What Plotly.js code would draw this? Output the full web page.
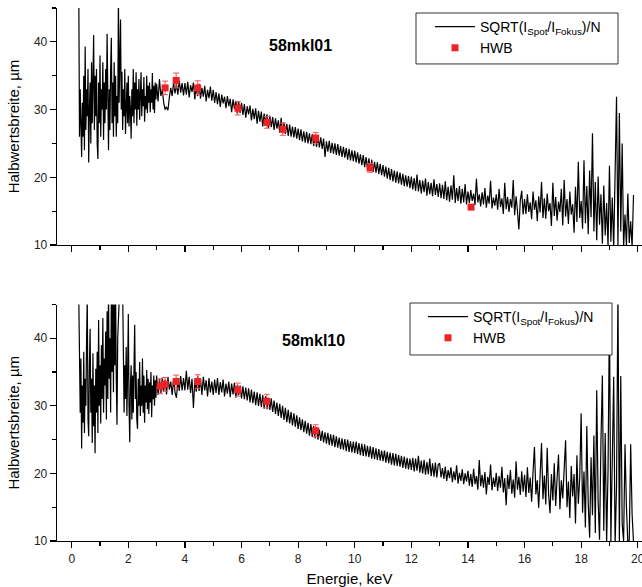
<!DOCTYPE html>
<html>
<head>
<meta charset="utf-8">
<script src="https://cdn.plot.ly/plotly-3.0.1.min.js"></script>
<style>html,body{margin:0;padding:0;background:#fff;}#chart{width:642px;height:587px;}</style>
</head>
<body>
<div id="chart"></div>
<script>
// Energy grids of the spectra (keV): low-energy part is sampled twice as densely
const lowStart = 0.25, lowStep = 0.025;
const mainStart = 3.0, mainStep = 0.05;

// 58mkl01: SQRT(I_Spot/I_Fokus)/N
const spec01Low = [
  47, 26, 33, 28, 23, 31, 26, 35, 24, 39.3, 27, 33, 29, 36, 22.2, 30, 34, 25, 37, 28,
  33, 41, 27, 35, 29, 36, 25, 22.7, 34, 28, 38, 26, 33, 30, 37, 25.5, 34, 28, 36, 30,
  41.2, 29, 24, 33, 27, 36, 40.6, 28, 34, 26, 37, 29, 35, 26, 32, 28, 47, 31, 36, 43.3,
  30, 35.6, 27, 33, 29, 36, 26.4, 31, 34, 28, 35, 27.5, 32, 30, 25.7, 33, 29, 36, 28, 34,
  30, 35.5, 27.6, 33, 30, 34.5, 28.5, 32, 35.5, 29, 33, 30.5, 34.8, 28.2, 32, 30, 35, 29.5, 33.5, 31,
  34, 29.6, 33, 31, 35.4, 30, 33.5, 29.5, 34, 31.5
];
const spec01Main = [
  33.8, 31.2, 34.5, 32.0, 33.0, 31.0, 30.0, 30.4, 29.9, 31.8, 33.2, 32.0, 34.0, 32.4, 33.8, 32.2, 34.3, 32.5, 33.9, 32.1,
  33.9, 32.2, 34.1, 31.8, 33.6, 32.6, 34.0, 31.5, 33.3, 32.0, 33.8, 31.6, 33.2, 31.9, 33.5, 31.2, 32.9, 31.7, 33.4, 31.3,
  32.9, 31.0, 32.6, 30.8, 32.4, 30.4, 32.2, 30.9, 31.9, 30.2, 32.0, 30.5, 31.6, 29.6, 31.5, 30.1, 31.3, 29.4, 31.2, 29.5,
  31.0, 29.2, 30.8, 28.8, 30.5, 29.3, 30.6, 28.4, 30.1, 28.6, 30.2, 27.9, 29.8, 28.2, 29.7, 27.5, 29.4, 28.0, 29.3, 27.3,
  29.1, 27.4, 28.9, 27.0, 28.7, 27.2, 28.4, 26.6, 28.8, 26.5, 28.1, 26.4, 27.9, 26.1, 27.8, 26.0, 27.5, 25.9, 27.4, 25.7,
  27.2, 25.5, 27.1, 25.3, 26.8, 25.1, 26.7, 25.0, 26.5, 24.9, 26.4, 24.6, 26.2, 24.5, 26.0, 24.4, 25.9, 24.2, 25.7, 23.0,
  25.3, 23.8, 25.4, 23.6, 25.1, 23.5, 25.0, 23.3, 24.9, 23.2, 24.6, 23.0, 24.5, 22.9, 24.3, 22.6, 24.2, 22.5, 24.0, 22.4,
  23.9, 22.2, 23.7, 22.0, 23.4, 21.8, 23.3, 21.5, 23.0, 21.3, 22.8, 21.0, 22.6, 20.8, 22.3, 20.7, 22.2, 20.5, 22.0, 20.3,
  21.8, 20.1, 21.6, 19.8, 21.4, 19.6, 21.2, 19.4, 21.0, 19.2, 20.9, 19.1, 20.7, 18.9, 20.5, 18.7, 20.3, 18.6, 20.2, 18.4,
  20.1, 18.2, 19.9, 18.0, 20.4, 17.9, 19.6, 17.6, 19.5, 17.8, 19.8, 17.3, 19.3, 17.5, 19.2, 17.2, 19.7, 17.4, 19.0, 17.1,
  19.1, 16.9, 18.9, 16.8, 19.4, 16.6, 18.6, 16.4, 18.8, 16.7, 20.3, 16.2, 18.4, 16.5, 18.7, 16.1, 18.3, 16.3, 19.0, 16.0,
  17.9, 16.2, 18.1, 16.5, 17.6, 15.9, 19.8, 16.3, 17.5, 15.7, 17.8, 16.0, 18.4, 15.5, 17.3, 16.1, 19.5, 15.4, 17.0, 15.8,
  17.5, 15.2, 18.3, 15.6, 16.9, 14.6, 19.2, 15.3, 17.1, 14.9, 16.8, 15.5, 19.6, 14.4, 17.2, 15.0, 12.3, 16.6, 18.0, 14.5,
  16.8, 14.6, 17.5, 14.9, 16.3, 13.8, 17.9, 15.2, 16.6, 13.5, 17.2, 14.8, 19.3, 14.0, 16.9, 13.9, 17.6, 15.0, 16.2, 12.8,
  19.2, 14.3, 17.1, 13.6, 16.4, 14.9, 18.3, 12.9, 19.6, 14.2, 16.8, 13.1, 17.9, 14.5, 16.0, 11.8, 18.6, 13.4, 22.3, 14.0,
  16.5, 12.4, 22.5, 13.2, 18.7, 11.6, 21.0, 14.1, 26.5, 12.0, 19.3, 10.7, 20.1, 13.0, 17.5, 10.2, 18.8, 11.4, 16.2, 9.8,
  21.7, 10.5, 17.0, 9.5, 19.5, 31.9, 9.8, 29.5, 12.0, 25.0, 9.6, 14.5, 9.9, 17.6, 10.3, 13.5, 9.7, 17.4
];

// 58mkl10: SQRT(I_Spot/I_Fokus)/N
const spec10Low = [
  46, 35, 29, 37, 23.7, 33, 27.5, 38, 26, 34, 30, 39.7, 46, 28, 25.5, 36, 41.4, 29, 34, 24.5,
  37.8, 27, 33, 23.0, 35.5, 29, 38, 26, 42.7, 30, 36, 27.4, 39, 31, 43, 29, 37, 33, 41, 28,
  44, 31, 47, 34, 40, 29, 47, 35, 46, 32, 47, 36, 47, 34, 27.2, 40, 47, 48, 48, 47,
  47, 48, 47, 38, 29, 36, 31, 38.7, 28.5, 35, 43.6, 30, 24.6, 33, 36, 28, 34.5, 29, 37.7, 42,
  31, 35, 28, 26.6, 34, 30, 36.5, 28.5, 33, 30, 37, 29, 34.5, 27.5, 33, 30.5, 35.3, 29.5, 34, 28.8,
  33.5, 30.5, 35, 28.3, 33, 31, 34.5, 30, 33.8, 31.2
];
const spec10Main = [
  34.5, 31.6, 34.0, 31.8, 34.2, 32.1, 33.9, 31.7, 34.3, 32.4, 33.6, 31.6, 34.0, 32.0, 31.2, 33.6, 32.2, 34.4, 32.3, 34.1,
  32.3, 35.2, 32.4, 34.3, 31.9, 34.0, 29.7, 33.8, 32.1, 34.5, 32.2, 34.0, 31.6, 34.3, 32.3, 33.8, 31.4, 34.1, 32.0, 33.6,
  31.6, 33.9, 31.9, 34.1, 31.6, 33.5, 32.0, 33.9, 31.4, 33.3, 31.8, 33.6, 31.3, 33.3, 31.7, 33.4, 31.2, 33.1, 31.6, 33.0,
  31.1, 32.9, 31.0, 32.7, 30.8, 32.6, 30.5, 32.4, 30.4, 32.1, 30.1, 32.0, 30.0, 31.8, 29.8, 31.6, 29.6, 31.4, 29.5, 31.2,
  29.4, 31.1, 29.1, 30.8, 28.8, 30.5, 28.5, 30.3, 28.2, 30.0, 27.9, 29.7, 27.6, 29.4, 27.4, 29.1, 27.1, 28.9, 26.9, 28.6,
  26.6, 28.3, 26.4, 28.0, 26.1, 27.8, 25.9, 27.5, 25.6, 27.3, 25.4, 27.0, 25.2, 26.8, 25.0, 26.5, 24.8, 26.3, 24.6, 26.1,
  24.4, 26.0, 24.2, 25.8, 24.1, 25.7, 23.9, 25.5, 23.8, 25.3, 23.6, 25.2, 23.5, 25.1, 23.3, 25.0, 23.2, 24.8, 23.1, 24.7,
  23.0, 24.7, 22.9, 24.5, 22.7, 24.4, 22.6, 24.3, 22.5, 24.1, 22.4, 24.0, 22.2, 23.9, 22.1, 23.7, 22.0, 23.6, 21.9, 23.4,
  21.8, 23.4, 21.6, 23.2, 21.5, 23.1, 21.3, 23.0, 21.2, 22.9, 21.1, 22.7, 21.0, 22.6, 20.8, 22.5, 20.7, 22.3, 20.6, 22.2,
  20.5, 22.3, 20.3, 22.2, 20.4, 22.6, 20.1, 21.9, 20.0, 22.0, 19.8, 21.7, 19.9, 22.2, 19.6, 21.5, 19.5, 21.6, 19.4, 21.3,
  21.5, 19.4, 20.8, 19.2, 21.0, 18.9, 20.5, 19.3, 20.9, 18.7, 20.3, 19.0, 21.2, 18.5, 20.1, 18.9, 20.6, 18.4, 20.0, 18.8,
  20.4, 18.2, 19.9, 18.0, 20.7, 18.4, 19.6, 17.6, 22.0, 18.1, 19.8, 17.9, 20.2, 16.9, 19.5, 18.3, 21.3, 17.5, 19.4, 18.0,
  20.1, 17.4, 19.6, 17.9, 21.0, 17.2, 19.3, 15.3, 19.8, 17.7, 20.5, 17.0, 19.1, 16.4, 21.8, 17.6, 19.5, 16.8, 20.3, 17.3,
  19.8, 16.5, 20.9, 17.1, 19.4, 15.8, 20.2, 23.9, 16.9, 19.0, 14.9, 20.6, 24.5, 16.2, 19.7, 15.4, 23.8, 17.0, 14.1, 19.9,
  16.0, 21.5, 15.2, 19.3, 22.8, 14.7, 19.0, 16.3, 20.4, 24.9, 15.0, 18.8, 13.4, 21.1, 16.6, 19.9, 12.6, 22.7, 15.5, 19.4,
  28.9, 14.2, 20.3, 12.0, 27.0, 15.6, 10.5, 22.4, 13.8, 25.6, 11.2, 32.3, 16.0, 10.2, 24.8, 34.5, 11.5, 26.0, 9.6, 20.5,
  44, 10.0, 22.0, 34.3, 9.5, 18.0, 47, 9.8, 34.4, 12.5, 10.0, 24.3, 15.0, 9.7, 10.1, 24.3, 14.0, 9.8
];

// HWB points (energy keV, width um, error)
const hwb01E = [3.30, 3.69, 4.45, 5.87, 6.90, 7.46, 8.62, 10.54, 14.11];
const hwb01V = [33.2, 34.3, 33.2, 30.2, 28.1, 27.1, 25.8, 21.4, 15.6];
const hwb01Err = [1.0, 1.1, 1.05, 1.0, 0.85, 0.9, 0.8, 0.65, 0.3];

const hwb10E = [3.12, 3.30, 3.69, 4.45, 5.87, 6.89, 8.62];
const hwb10V = [32.9, 33.2, 33.6, 33.6, 32.4, 30.7, 26.3];
const hwb10Err = [1.1, 1.0, 0.95, 1.0, 0.97, 1.0, 0.9];

const sampleNames = ['58mkl01', '58mkl10'];
const lineName = 'SQRT(I<sub>Spot</sub>/I<sub>Fokus</sub>)/N';
const pointName = 'HWB';
const xTitle = 'Energie, keV';
const yTitle = 'Halbwertsbreite, µm';

function grid(arr, start, step) { return arr.map((_, i) => +(start + i * step).toFixed(3)); }
const energy01 = grid(spec01Low, lowStart, lowStep).concat(grid(spec01Main, mainStart, mainStep));
const values01 = spec01Low.concat(spec01Main);
const energy10 = grid(spec10Low, lowStart, lowStep).concat(grid(spec10Main, mainStart, mainStep));
const values10 = spec10Low.concat(spec10Main);

const FONT = 'Liberation Sans, Arial, Helvetica, sans-serif';
const RED = '#ec2227';
const ERRRED = '#f0575b';

const traces = [
  {x: energy01, y: values01, type: 'scatter', mode: 'lines', name: lineName,
   line: {color: '#000', width: 1.2}, xaxis: 'x', yaxis: 'y', legend: 'legend'},
  {x: hwb01E, y: hwb01V, type: 'scatter', mode: 'markers', name: pointName,
   marker: {symbol: 'square', size: 7, color: RED},
   error_y: {type: 'data', array: hwb01Err, visible: true, color: ERRRED, thickness: 1, width: 3},
   xaxis: 'x', yaxis: 'y', legend: 'legend'},
  {x: energy10, y: values10, type: 'scatter', mode: 'lines', name: lineName,
   line: {color: '#000', width: 1.2}, xaxis: 'x2', yaxis: 'y2', legend: 'legend2'},
  {x: hwb10E, y: hwb10V, type: 'scatter', mode: 'markers', name: pointName,
   marker: {symbol: 'square', size: 7, color: RED},
   error_y: {type: 'data', array: hwb10Err, visible: true, color: ERRRED, thickness: 1, width: 3},
   xaxis: 'x2', yaxis: 'y2', legend: 'legend2'}
];

const xCommon = {
  range: [-0.52, 20.15], showgrid: false, zeroline: false, showline: true,
  linecolor: '#000', linewidth: 1.3, ticks: 'outside', ticklen: 6, tickwidth: 1.2, tickcolor: '#000',
  dtick: 2, tick0: 0, minor: {dtick: 1, ticks: 'outside', ticklen: 3.5, tickwidth: 1.2, tickcolor: '#000'},
  tickfont: {family: FONT, size: 12, color: '#222'}, ticklabeloverflow: 'allow'
};
const yCommon = {
  range: [10, 45], showgrid: false, zeroline: false, showline: true,
  linecolor: '#000', linewidth: 1.3, ticks: 'outside', ticklen: 6, tickwidth: 1.2, tickcolor: '#000',
  dtick: 10, tick0: 0, minor: {dtick: 5, ticks: 'outside', ticklen: 3.5, tickwidth: 1.2, tickcolor: '#000'},
  tickfont: {family: FONT, size: 12, color: '#222'},
  title: {text: yTitle, font: {family: FONT, size: 15, color: '#000'}, standoff: 10}
};

const legendCommon = {
  xanchor: 'left', yanchor: 'top', bgcolor: 'rgba(0,0,0,0)', borderwidth: 0,
  font: {family: FONT, size: 14, color: '#000'}, itemwidth: 40, tracegroupgap: 0
};

const boxStyle = {type: 'rect', xref: 'paper', yref: 'paper', layer: 'above',
  fillcolor: '#fff', line: {color: '#333', width: 1}};

const layout = {
  width: 642, height: 587,
  margin: {l: 57, r: 0, t: 8, b: 46},
  paper_bgcolor: '#fff', plot_bgcolor: '#fff',
  showlegend: true,
  xaxis: Object.assign({}, xCommon, {anchor: 'y', showticklabels: false}),
  yaxis: Object.assign({}, yCommon, {anchor: 'x', domain: [0.5553, 1]}),
  xaxis2: Object.assign({}, xCommon, {anchor: 'y2',
    title: {text: xTitle, font: {family: FONT, size: 15, color: '#000'}, standoff: 8}}),
  yaxis2: Object.assign({}, yCommon, {anchor: 'x2', domain: [0, 0.4437]}),
  legend: Object.assign({}, legendCommon, {x: 0.6376, y: 0.9944}),
  legend2: Object.assign({}, legendCommon, {x: 0.6256, y: 0.4503}),
  shapes: [
    Object.assign({}, boxStyle, {x0: 0.6137, x1: 0.959, y0: 0.895, y1: 0.9906}),
    Object.assign({}, boxStyle, {x0: 0.6034, x1: 0.9487, y0: 0.349, y1: 0.4465})
  ],
  annotations: [
    {text: '<b>' + sampleNames[0] + '</b>', xref: 'paper', yref: 'paper', x: 0.4157, y: 0.949,
     showarrow: false, font: {family: FONT, size: 16, color: '#000'}},
    {text: '<b>' + sampleNames[1] + '</b>', xref: 'paper', yref: 'paper', x: 0.438, y: 0.3766,
     showarrow: false, font: {family: FONT, size: 16, color: '#000'}}
  ]
};

Plotly.newPlot('chart', traces, layout, {displayModeBar: false, staticPlot: true});
</script>
</body>
</html>
